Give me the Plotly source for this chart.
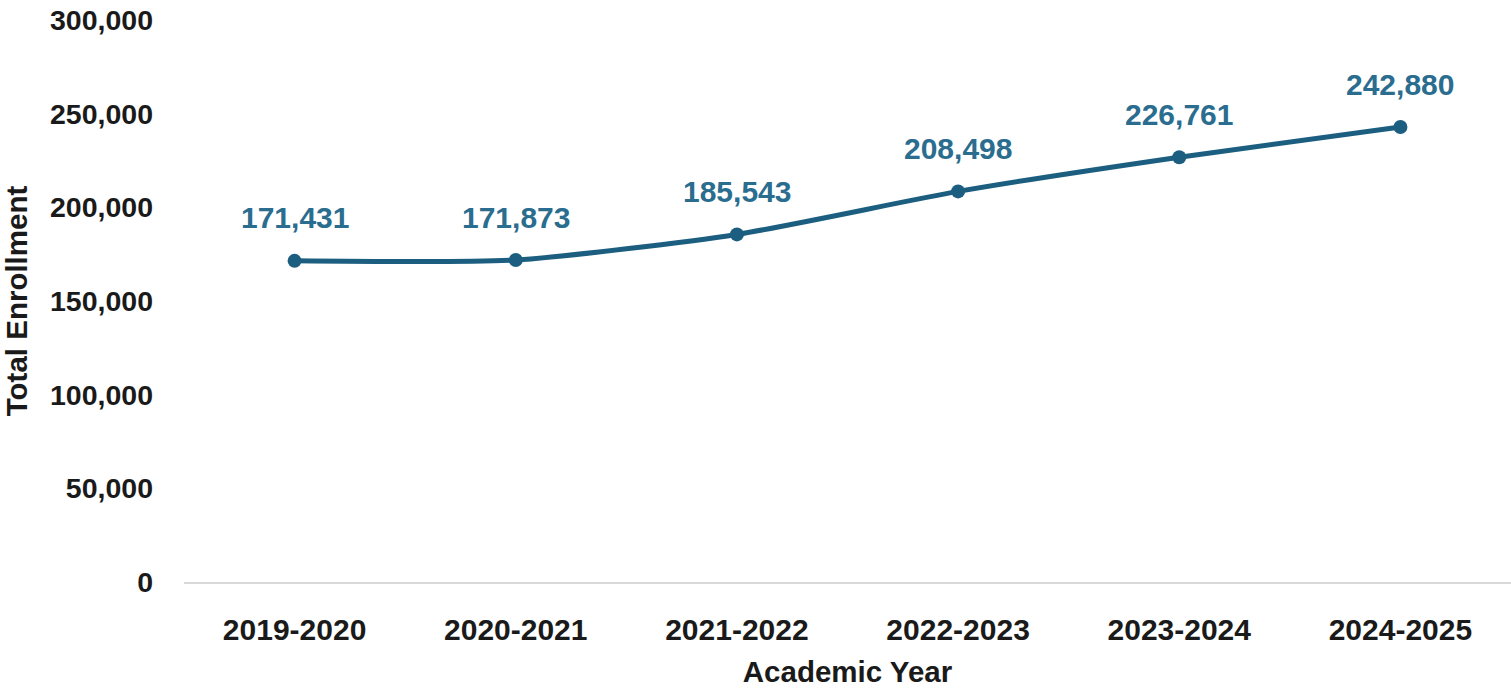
import plotly.graph_objects as go

years = ["2019-2020", "2020-2021", "2021-2022", "2022-2023", "2023-2024", "2024-2025"]
enrollment = [171431, 171873, 185543, 208498, 226761, 242880]
y_ticks = [0, 50000, 100000, 150000, 200000, 250000, 300000]

LINE = "#1b5e80"
LABEL = "#2a6d8f"
FONT = "Liberation Sans"
DARK = "#1a1a1a"

fig = go.Figure()
fig.add_trace(go.Scatter(
    x=years, y=enrollment, mode="lines+markers",
    line=dict(color=LINE, width=5, shape="spline", smoothing=0.6),
    marker=dict(color=LINE, size=14),
    hoverinfo="skip", showlegend=False,
))
for xv, yv in zip(years, enrollment):
    fig.add_annotation(x=xv, y=yv, text=f"<b>{yv:,}</b>", showarrow=False,
                       yshift=43, font=dict(family=FONT, size=30, color=LABEL))

fig.update_layout(
    width=1511, height=688,
    margin=dict(l=184, r=0, t=20, b=106),
    paper_bgcolor="white", plot_bgcolor="white",
    font=dict(family=FONT, color=DARK),
)
fig.update_xaxes(
    type="category", range=[-0.5, 5.5], automargin=False,
    showgrid=False, showline=True, linecolor="#d9d9d9", linewidth=2,
    ticks="", ticklabelstandoff=20,
    tickfont=dict(family=FONT, size=30, color=DARK, weight="bold"),
    title=dict(text="<b>Academic Year</b>", font=dict(family=FONT, size=29.5, color=DARK), standoff=26),
)
fig.update_yaxes(
    range=[0, 300000], tickvals=y_ticks, tickformat=",", automargin=False,
    showgrid=False, zeroline=False, showline=False, ticks="",
    ticklabelstandoff=30, ticklabeloverflow="allow",
    tickfont=dict(family=FONT, size=28.5, color=DARK, weight="bold"),
    title=dict(text="<b>Total Enrollment</b>", font=dict(family=FONT, size=29.5, color=DARK), standoff=15),
)

fig.write_html("out.html", config={"displayModeBar": False},
               post_script="document.body.style.margin='0';")
